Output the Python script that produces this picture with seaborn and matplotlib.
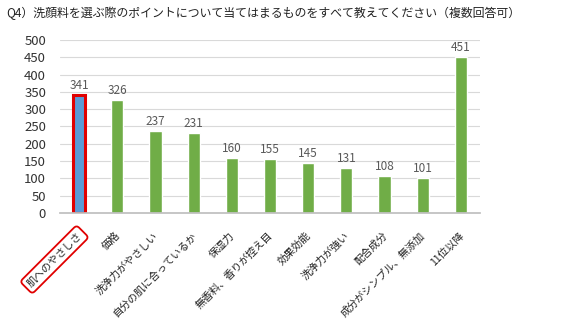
import matplotlib
matplotlib.use("Agg")
import matplotlib.pyplot as plt
import matplotlib.transforms as mtransforms
import seaborn as sns
import pandas as pd

categories = ["肌へのやさしさ", "価格", "洗浄力がやさしい", "自分の肌に合っているか", "保湿力",
              "無香料、香りが控え目", "効果効能", "洗浄力が強い", "配合成分", "成分がシンプル、無添加", "11位以降"]
values = [341, 326, 237, 231, 160, 155, 145, 131, 108, 101, 451]
yticks = [0, 50, 100, 150, 200, 250, 300, 350, 400, 450, 500]
title = "Q4）洗顔料を選ぶ際のポイントについて当てはまるものをすべて教えてください（複数回答可）"

sns.set_theme(style="white")
plt.rcParams['font.family'] = ['Noto Sans CJK JP', 'DejaVu Sans']

df = pd.DataFrame({"cat": categories, "val": values})
colors = ["#5B9BD5"] + ["#70AD47"] * (len(categories) - 1)

fig = plt.figure(figsize=(5.85, 3.25), dpi=100)
ax = fig.add_axes([60/585, 1 - 213/325, 420/585, 173/325])
sns.barplot(data=df, x="cat", y="val", hue="cat", palette=colors, legend=False,
            width=0.32, ax=ax, saturation=1)

bars = ax.patches
bars[0].set_edgecolor("#E00000")
bars[0].set_linewidth(2.2)

ax.set_ylim(0, 500)
ax.set_yticks(yticks)
ax.set_yticklabels([str(v) for v in yticks], fontsize=9.5, color="#333333")
ax.yaxis.grid(True, color="#D9D9D9", linewidth=0.8)
ax.set_axisbelow(True)
for s in ["top", "right", "left"]:
    ax.spines[s].set_visible(False)
ax.spines["bottom"].set_color("#BFBFBF")
ax.tick_params(axis="y", length=0, pad=10)
ax.set_xlabel("")
ax.set_ylabel("")

for i, v in enumerate(values):
    ax.text(i, v + 9, str(v), ha="center", va="bottom", fontsize=8.5, color="#595959")

ax.set_xticks(range(len(categories)))
labels = ax.set_xticklabels(categories, rotation=45, ha="right", va="center",
                            rotation_mode="anchor", fontsize=7.5, color="#222222")
ax.tick_params(axis="x", length=0, pad=15)
offset = mtransforms.ScaledTranslation(1/100, 0, fig.dpi_scale_trans)
for lab in labels:
    lab.set_transform(lab.get_transform() + offset)
labels[0].set_bbox(dict(boxstyle="round,pad=0.35", facecolor="white", edgecolor="#E00000", linewidth=1.3))

fig.text(6/585, 1 - 13/325, title, fontsize=8.6, va="center", ha="left", color="#222222")

fig.savefig("out.png", dpi=100)
